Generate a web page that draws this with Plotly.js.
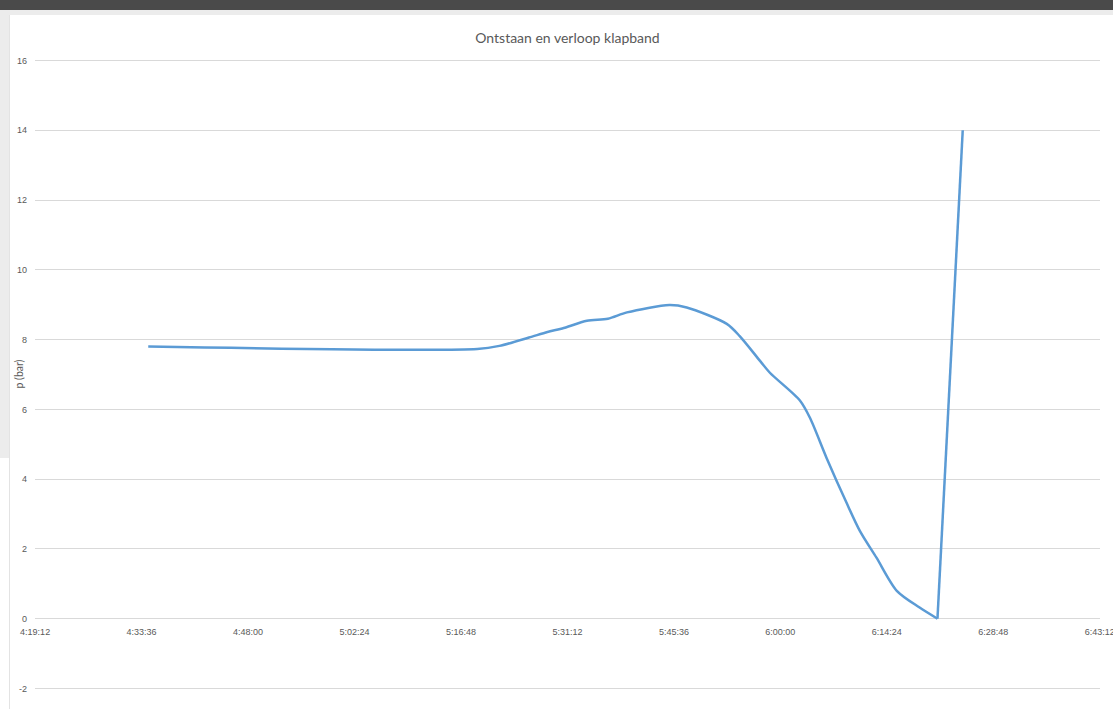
<!DOCTYPE html>
<html>
<head>
<meta charset="utf-8">
<script src="https://cdn.plot.ly/plotly-3.0.1.min.js"></script>
<style>
  html, body { margin:0; padding:0; width:1113px; height:709px; overflow:hidden; background:#ffffff; }
  #topbar { position:absolute; left:0; top:0; width:1113px; height:10px; background:#4a4a4a; }
  #strip { position:absolute; left:0; top:10px; width:1113px; height:5px; background:#ececec; }
  #leftstrip { position:absolute; left:0; top:10px; width:9px; height:448px; background:#ececec; }
  #border { position:absolute; left:9px; top:15px; width:1px; height:694px; background:#e3e3e3; }
  #chart { position:absolute; left:0; top:0; width:1113px; height:709px; }
</style>
</head>
<body>
<div id="topbar"></div>
<div id="strip"></div>
<div id="leftstrip"></div>
<div id="border"></div>
<div id="chart"></div>
<script>
// Time stamps (h:mm:ss) and pressure (bar)
const times = ['04:34:30','05:19:00','05:22:00','05:26:00','05:28:30','05:30:30','05:33:50','05:36:40',
               '05:39:15','05:45:00','05:47:20','05:52:45','05:54:30','05:57:15','05:58:35','06:02:40',
               '06:04:00','06:06:15','06:09:00','06:10:45','06:13:00','06:15:45','06:18:50','06:21:15','06:24:40'];
const pressure = [7.8, 7.73, 7.82, 8.06, 8.22, 8.32, 8.54, 8.6,
                  8.78, 8.99, 8.92, 8.45, 8.1, 7.39, 7.05, 6.25,
                  5.76, 4.61, 3.3, 2.52, 1.75, 0.8, 0.32, 0.0, 14.0];
const tickTimes = ['04:19:12','04:33:36','04:48:00','05:02:24','05:16:48','05:31:12',
                   '05:45:36','06:00:00','06:14:24','06:28:48','06:43:12'];
const tickLabels = ['4:19:12','4:33:36','4:48:00','5:02:24','5:16:48','5:31:12',
                    '5:45:36','6:00:00','6:14:24','6:28:48','6:43:12'];
const yTicks = [-2, 0, 2, 4, 6, 8, 10, 12, 14, 16];
const yTickLabels = ['-2', '0', '2', '4', '6', '8', '10', '12', '14', '16'];

const day = '1970-01-01 ';
const xs = times.map(t => day + t);
const lineStyle = { color: '#5b9bd5', width: 2.5 };

// smooth part up to the minimum, then the final steep rise
const traceSmooth = {
  x: xs.slice(0, -1), y: pressure.slice(0, -1),
  type: 'scatter', mode: 'lines',
  line: Object.assign({}, lineStyle, { shape: 'spline', smoothing: 0.8 }),
  hoverinfo: 'x+y'
};
const traceRise = {
  x: xs.slice(-2), y: pressure.slice(-2),
  type: 'scatter', mode: 'lines',
  line: Object.assign({}, lineStyle, { shape: 'linear' }),
  hoverinfo: 'x+y'
};

const tickFont = { family: '"Liberation Sans Narrow", "Liberation Sans", sans-serif', size: 9, color: '#595959' };
const yMin = -2.1, yMax = 16.1;

const layout = {
  width: 1113, height: 709,
  margin: { l: 35, r: 13, t: 57, b: 17, pad: 0 },
  paper_bgcolor: 'rgba(0,0,0,0)',
  plot_bgcolor: 'rgba(0,0,0,0)',
  showlegend: false,
  title: {
    text: 'Ontstaan en verloop klapband',
    font: { family: 'Lato, "Open Sans", sans-serif', size: 14, color: '#595959' },
    x: 0.5, xanchor: 'center', xref: 'paper',
    y: 1 - 38 / 709, yanchor: 'middle', yref: 'container'
  },
  xaxis: {
    type: 'date',
    range: [day + '04:19:11', day + '06:43:14'],
    tickvals: tickTimes.map(t => day + t),
    ticktext: tickLabels,
    showgrid: false,
    zeroline: false,
    showline: false,
    ticks: '',
    anchor: 'free',
    position: (0 - yMin) / (yMax - yMin),
    ticklabelstandoff: 6,
    ticklabeloverflow: 'allow',
    tickfont: tickFont
  },
  yaxis: {
    range: [yMin, yMax],
    tickvals: yTicks,
    ticktext: yTickLabels,
    showgrid: true,
    gridcolor: '#d9d9d9',
    gridwidth: 1,
    zeroline: false,
    showline: false,
    ticks: '',
    ticklabelstandoff: 7,
    tickfont: tickFont
  },
  annotations: [{
    text: 'p (bar)',
    xref: 'paper', yref: 'paper',
    x: -17 / 1065, y: 0.5,
    xanchor: 'center', yanchor: 'middle',
    textangle: -90,
    showarrow: false,
    font: { family: 'Lato, "Open Sans", sans-serif', size: 10.5, color: '#595959' }
  }]
};

Plotly.newPlot('chart', [traceSmooth, traceRise], layout, { displayModeBar: false });
</script>
</body>
</html>
